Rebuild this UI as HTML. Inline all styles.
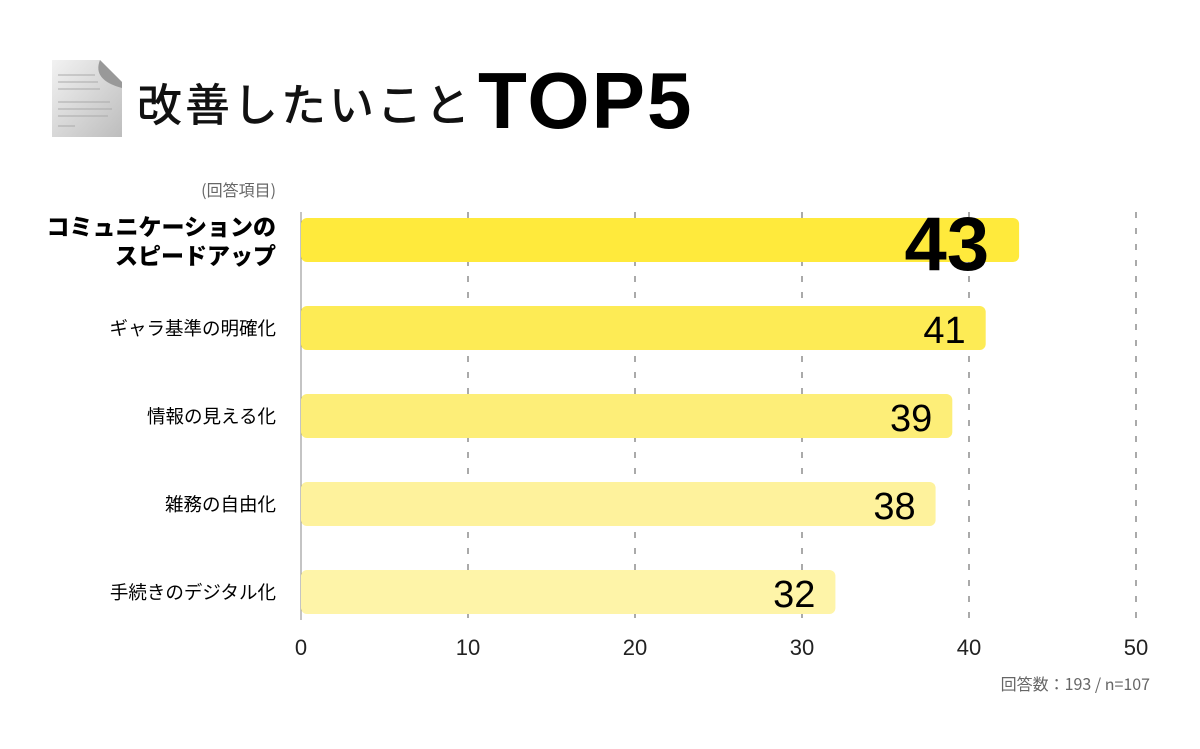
<!DOCTYPE html>
<html><head><meta charset="utf-8"><style>
html,body{margin:0;padding:0;background:#fff;}
body{width:1200px;height:744px;overflow:hidden;position:relative;font-family:"Liberation Sans","Noto Sans CJK JP",sans-serif;}
</style></head><body>
<svg id="chart" width="1200" height="744" xmlns="http://www.w3.org/2000/svg">
  <defs>
    <linearGradient id="pg" x1="0" y1="0" x2="1" y2="1">
      <stop offset="0" stop-color="#f2f2f2"/><stop offset="1" stop-color="#bdbdbd"/>
    </linearGradient>
  </defs>
  <g>
    <path d="M52 60 L100 60 L122 82 L122 137 L52 137 Z" fill="url(#pg)"/>
    <path d="M100 60 Q92 80 122 88 L122 82 Z" fill="#999"/>
    <g stroke="#aaa" stroke-width="1">
      <line x1="58" y1="75" x2="95" y2="75"/><line x1="58" y1="82" x2="98" y2="82"/>
      <line x1="58" y1="89" x2="100" y2="89"/><line x1="58" y1="102" x2="110" y2="102"/>
      <line x1="58" y1="109" x2="112" y2="109"/><line x1="58" y1="116" x2="108" y2="116"/>
      <line x1="58" y1="126" x2="75" y2="126"/>
    </g>
  </g>
  <text x="137" y="121" font-size="45" letter-spacing="3" font-family="'Noto Sans CJK JP',sans-serif" font-weight="500" fill="#111">改善したいこと</text>
  <text x="478" y="128" font-size="80" font-weight="bold" letter-spacing="2" fill="#000">TOP5</text>
  <text x="276" y="196" font-size="16" text-anchor="end" fill="#666" font-family="'Noto Sans CJK JP',sans-serif">(回答項目)</text>
  <text x="1150" y="690" font-size="16" text-anchor="end" fill="#666" font-family="'Noto Sans CJK JP',sans-serif">回答数：193 / n=107</text>
  <g id="grid"></g>
  <g id="bars"></g>
  <g id="labels"></g>
</svg>
<script>
const categories = ["コミュニケーションの\nスピードアップ","ギャラ基準の明確化","情報の見える化","雑務の自由化","手続きのデジタル化"];
const values = [43,41,39,38,32];
const ticks = [0,10,20,30,40,50];
const colors = ["#ffea3c","#fdeb55","#fdee78","#fef29c","#fef4a8"];
const NS="http://www.w3.org/2000/svg";
const x0=301,x1=1136,vmax=50;
const xs=v=>x0+(v/vmax)*(x1-x0);
const rowY=i=>218+i*88;
const bh=44;
const grid=document.getElementById('grid'),bars=document.getElementById('bars'),labels=document.getElementById('labels');
function mk(t,a){const e=document.createElementNS(NS,t);for(const k in a)e.setAttribute(k,a[k]);return e;}
ticks.forEach(t=>{
  const x=xs(t);
  if(t>0){const l=mk('line',{x1:x,x2:x,y1:212,y2:620,stroke:'#555','stroke-width':1,'stroke-dasharray':'6,10'});
  
  
  grid.appendChild(l);}
  const tx=mk('text',{x:x,y:655,'font-size':22,'text-anchor':'middle',fill:'#222'});
  tx.textContent=t;
  
  
  labels.appendChild(tx);
});
const ax=mk('line',{x1:x0,x2:x0,y1:212,y2:620,stroke:'#888','stroke-width':1});


grid.appendChild(ax);
values.forEach((v,i)=>{
  const y=rowY(i),w=xs(v)-x0;
  const r=mk('rect',{x:x0,y:y,width:w,height:bh,rx:6,fill:colors[i]});
  
  
  bars.appendChild(r);
  const vt=mk('text',{x:xs(v)-(i==0?30:20),y:i==0?y+bh+8:y+bh-7,'font-size':i==0?76:38,'font-weight':i==0?'bold':'normal','text-anchor':'end',fill:'#000'});
  vt.textContent=v;
  
  
  labels.appendChild(vt);
  const lines=categories[i].split('\n');
  lines.forEach((ln,j)=>{
    const ct=mk('text',{x:276,'text-anchor':'end',y:i==0?y+17+j*29:y+bh/2+7,'font-size':i==0?23:18.5,'font-weight':i==0?'900':'normal',fill:'#000','font-family':"'Noto Sans CJK JP',sans-serif"});
    ct.textContent=ln;
    
    
    labels.appendChild(ct);
  });
});
</script>
</body></html>
